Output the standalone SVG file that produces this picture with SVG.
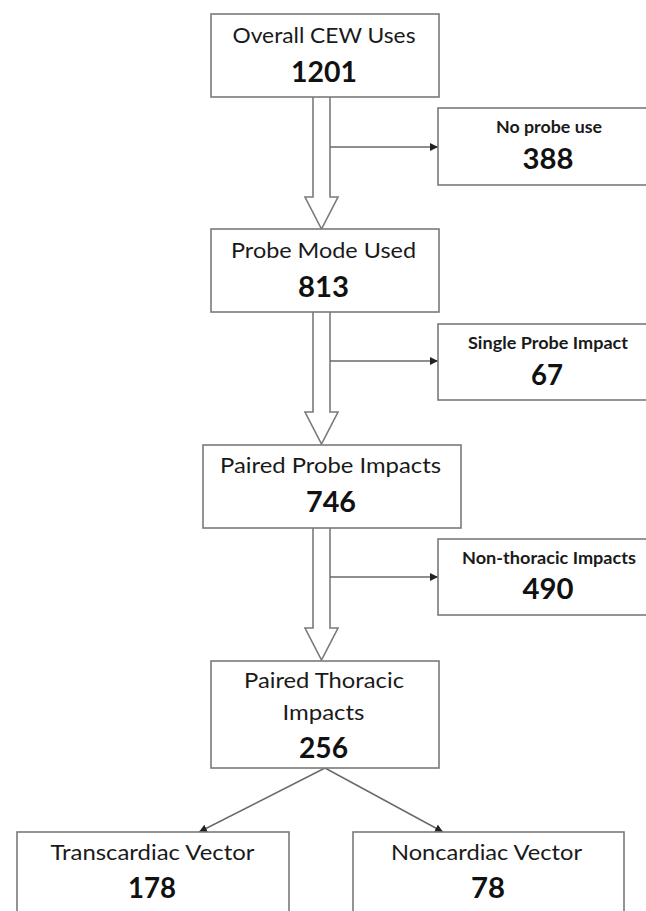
<svg xmlns="http://www.w3.org/2000/svg" width="646" height="911" viewBox="0 0 646 911">
<defs>
<style>
.box{fill:#fff;stroke:#7a7a7a;stroke-width:1.6}
.lbl{font-family:Lato,"Open Sans","Liberation Sans",sans-serif;font-size:21px;fill:#1a1a1a;text-anchor:middle}
.sl{font-family:Lato,"Open Sans","Liberation Sans",sans-serif;font-size:17px;font-weight:bold;fill:#1a1a1a;text-anchor:middle}
.num{font-family:Lato,"Open Sans","Liberation Sans",sans-serif;font-size:28px;font-weight:bold;fill:#111;text-anchor:middle}
.hol{fill:#fff;stroke:#7a7a7a;stroke-width:1.6;stroke-linejoin:miter}
.ln{fill:none;stroke:#6a6a6a;stroke-width:1.5}
</style>
<marker id="ah" markerWidth="8" markerHeight="8" refX="8" refY="4" orient="auto" markerUnits="userSpaceOnUse">
<path d="M0,0 L8,4 L0,8 Z" fill="#222"/>
</marker>
</defs>
<rect width="646" height="911" fill="#fff"/>
<g id="connectors">
<path class="hol" d="M313,97 L313,197 L305,197 L321.5,229 L338,197 L330,197 L330,97"/>
<path class="hol" d="M313,312 L313,412 L305,412 L321.5,444 L338,412 L330,412 L330,312"/>
<path class="hol" d="M313,528 L313,628 L305,628 L321.5,660 L338,628 L330,628 L330,528"/>
<line class="ln" x1="330" y1="147" x2="438" y2="147" marker-end="url(#ah)"/>
<line class="ln" x1="330" y1="361" x2="438" y2="361" marker-end="url(#ah)"/>
<line class="ln" x1="330" y1="577" x2="438" y2="577" marker-end="url(#ah)"/>
<line class="ln" x1="325" y1="768" x2="199" y2="832" marker-end="url(#ah)"/>
<line class="ln" x1="325" y1="768" x2="443" y2="832" marker-end="url(#ah)"/>
</g>
<g id="n-overall">
<rect class="box" x="211" y="14" width="228" height="83"/>
<text class="lbl" x="324" y="43" textLength="183" lengthAdjust="spacingAndGlyphs">Overall CEW Uses</text>
<text class="num" x="324" y="82" textLength="66" lengthAdjust="spacingAndGlyphs">1201</text>
</g>
<g id="n-noprobe">
<rect class="box" x="438" y="108" width="212" height="77"/>
<text class="sl" x="549" y="133" textLength="106" lengthAdjust="spacingAndGlyphs">No probe use</text>
<text class="num" x="548" y="169" textLength="51" lengthAdjust="spacingAndGlyphs">388</text>
</g>
<g id="n-probemode">
<rect class="box" x="211" y="229" width="228" height="83"/>
<text class="lbl" x="323.5" y="258" textLength="185" lengthAdjust="spacingAndGlyphs">Probe Mode Used</text>
<text class="num" x="323.5" y="297" textLength="51" lengthAdjust="spacingAndGlyphs">813</text>
</g>
<g id="n-single">
<rect class="box" x="438" y="324" width="212" height="76"/>
<text class="sl" x="548" y="349" textLength="160" lengthAdjust="spacingAndGlyphs">Single Probe Impact</text>
<text class="num" x="547" y="385" textLength="32" lengthAdjust="spacingAndGlyphs">67</text>
</g>
<g id="n-paired">
<rect class="box" x="203" y="445" width="258" height="83"/>
<text class="lbl" x="330.5" y="473" textLength="221" lengthAdjust="spacingAndGlyphs">Paired Probe Impacts</text>
<text class="num" x="331" y="512" textLength="50" lengthAdjust="spacingAndGlyphs">746</text>
</g>
<g id="n-nonthoracic">
<rect class="box" x="438" y="539" width="212" height="76"/>
<text class="sl" x="549" y="564" textLength="174" lengthAdjust="spacingAndGlyphs">Non-thoracic Impacts</text>
<text class="num" x="548" y="599" textLength="51" lengthAdjust="spacingAndGlyphs">490</text>
</g>
<g id="n-thoracic">
<rect class="box" x="211" y="661" width="228" height="107"/>
<text class="lbl" x="324" y="688" textLength="160" lengthAdjust="spacingAndGlyphs">Paired Thoracic</text>
<text class="lbl" x="323.5" y="720" textLength="82" lengthAdjust="spacingAndGlyphs">Impacts</text>
<text class="num" x="323.5" y="758" textLength="49" lengthAdjust="spacingAndGlyphs">256</text>
</g>
<g id="n-transcardiac">
<rect class="box" x="17" y="832" width="272" height="90"/>
<text class="lbl" x="152.5" y="860" textLength="204" lengthAdjust="spacingAndGlyphs">Transcardiac Vector</text>
<text class="num" x="152" y="898" textLength="48" lengthAdjust="spacingAndGlyphs">178</text>
</g>
<g id="n-noncardiac">
<rect class="box" x="353" y="832" width="271" height="90"/>
<text class="lbl" x="486.5" y="860" textLength="191" lengthAdjust="spacingAndGlyphs">Noncardiac Vector</text>
<text class="num" x="488" y="898" textLength="34" lengthAdjust="spacingAndGlyphs">78</text>
</g>
</svg>
